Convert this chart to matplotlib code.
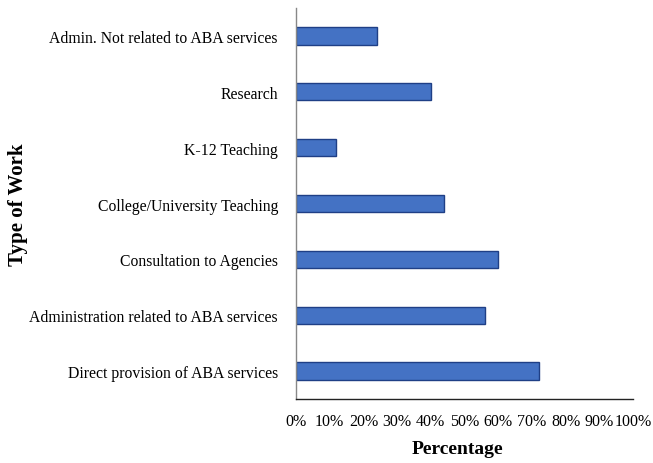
import numpy as np
import matplotlib
matplotlib.use("Agg")
import matplotlib.pyplot as plt
from matplotlib.ticker import PercentFormatter

# categories listed bottom to top
work_types = ['Direct provision of ABA services',
              'Administration related to ABA services',
              'Consultation to Agencies',
              'College/University Teaching',
              'K-12 Teaching',
              'Research',
              'Admin. Not related to ABA services']
percentages = [72, 56, 60, 44, 12, 40, 24]
xticks = [0, 10, 20, 30, 40, 50, 60, 70, 80, 90, 100]

plt.rcParams['font.family'] = ['Liberation Serif', 'DejaVu Serif']

fig = plt.figure(figsize=(6.53, 4.64), dpi=100)
ax = fig.add_axes([0.4533, 0.1379, 0.5161, 0.8427])

y = np.arange(len(work_types))
ax.barh(y, percentages, height=0.31, color='#4472C4',
        edgecolor='#1F3F86', linewidth=1.0)

ax.set_xlim(0, 100)
ax.set_ylim(-0.5, len(work_types) - 0.5)
ax.set_yticks(y)
ax.set_yticklabels(work_types, fontsize=11.3)
ax.set_xticks(xticks)
ax.xaxis.set_major_formatter(PercentFormatter(decimals=0))
ax.tick_params(axis='x', length=0, labelsize=11.5, pad=10)
ax.tick_params(axis='y', length=0, pad=13)

for s in ['top', 'right']:
    ax.spines[s].set_visible(False)
ax.spines['left'].set_color('#888888')
ax.spines['left'].set_linewidth(1.0)
ax.spines['bottom'].set_color('#222222')
ax.spines['bottom'].set_linewidth(1.0)

ax.set_xlabel('Percentage', fontsize=14, fontweight='bold', labelpad=8)
ax.xaxis.label.set_x(0.478)
fig.text(0.028, 0.558, 'Type of Work', rotation=90, fontsize=15,
         fontweight='bold', ha='center', va='center')

fig.savefig('out.png', dpi=100)
